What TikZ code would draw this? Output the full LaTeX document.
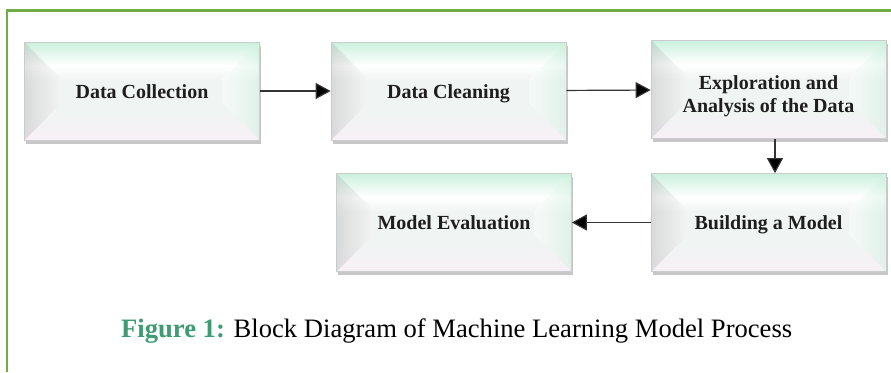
\documentclass[tikz,border=0pt]{standalone}
\usepackage{fontspec}
\setmainfont{Liberation Serif}
\usetikzlibrary{arrows.meta,shadows,calc}

\definecolor{framegreen}{RGB}{112,173,71}
\definecolor{capgreen}{RGB}{62,155,115}
\definecolor{mint}{RGB}{204,240,222}
\definecolor{facegray}{RGB}{240,244,243}
\definecolor{pinkw}{RGB}{248,240,246}
\definecolor{edgegray}{RGB}{200,204,204}
\definecolor{inkdark}{RGB}{30,30,30}

% vertical colour run of a box (path fills 25bp..75bp)
\pgfdeclareverticalshading{bevelfill}{100bp}{%
  color(0bp)=(pinkw); color(25bp)=(pinkw); color(38bp)=(facegray);
  color(55bp)=(facegray); color(63bp)=(white); color(75bp)=(mint);
  color(100bp)=(mint)}

\tikzset{
  stage/.style={shade, shading=bevelfill, draw=edgegray, line width=0.7pt,
    minimum width=235pt, minimum height=98pt, inner sep=2pt, align=center,
    text=inkdark, font=\bfseries\fontsize{20}{23}\selectfont,
    drop shadow={shadow xshift=1.5pt, shadow yshift=-3.5pt, fill=black,
      opacity=0.22},
    path picture={
      \coordinate (pnw) at (path picture bounding box.north west);
      \coordinate (pne) at (path picture bounding box.north east);
      \coordinate (psw) at (path picture bounding box.south west);
      \coordinate (pse) at (path picture bounding box.south east);
      % left face, darker
      \shade[left color=black!40, right color=black!2, opacity=0.28]
        (pnw) -- ($(pnw)+(37pt,-37pt)$) -- ($(psw)+(37pt,37pt)$)
        -- (psw) -- cycle;
      % right face, lighter
      \shade[left color=white, right color=mint, opacity=0.45]
        (pne) -- ($(pne)+(-37pt,-37pt)$) -- ($(pse)+(-37pt,37pt)$)
        -- (pse) -- cycle;
    }},
  oneline/.style={text height=14pt, text depth=0pt},
  flow/.style={draw=black!80, line width=1.2pt,
    -{Triangle[length=15pt,width=16pt,fill=black]}},
  frame/.style={draw=framegreen, line width=2.4pt}
}

\begin{document}
\begin{tikzpicture}[x=1pt, y=-1pt]%
   % Page size of the reference
   \useasboundingbox (0,0) rectangle (891,372);

   % Green frame, open on the right and at the bottom
   \draw[frame] (7,372) -- (7,10.5) -- (891,10.5);

   % Stages
   \node[stage, oneline] (collect)  at (142,91)   {Data Collection};
   \node[stage, oneline] (clean)    at (448.5,91) {Data Cleaning};
   \node[stage, text height=45pt, text depth=0pt] (explore) at (768.5,89.5)
     {Exploration and\\Analysis of the Data};
   \node[stage, oneline] (build)    at (768.5,222.5) {Building a Model};
   \node[stage, oneline] (evaluate) at (454,222.5) {Model Evaluation};

   % Flow between stages
   \draw[flow] (collect) -- (clean);
   \draw[flow] (clean) -- (explore);
   \draw[flow] ([xshift=6.5pt]explore.south) -- ([xshift=6.5pt]build.north);
   \draw[flow] (build) -- (evaluate);

   % Caption
   \node[anchor=base west, inner sep=0pt, font=\fontsize{26.6}{30}\selectfont]
     (caption) at (121,337)
     {\textcolor{capgreen}{\textbf{Figure 1:}} Block Diagram of Machine Learning Model Process};
 \end{tikzpicture}
\end{document}
